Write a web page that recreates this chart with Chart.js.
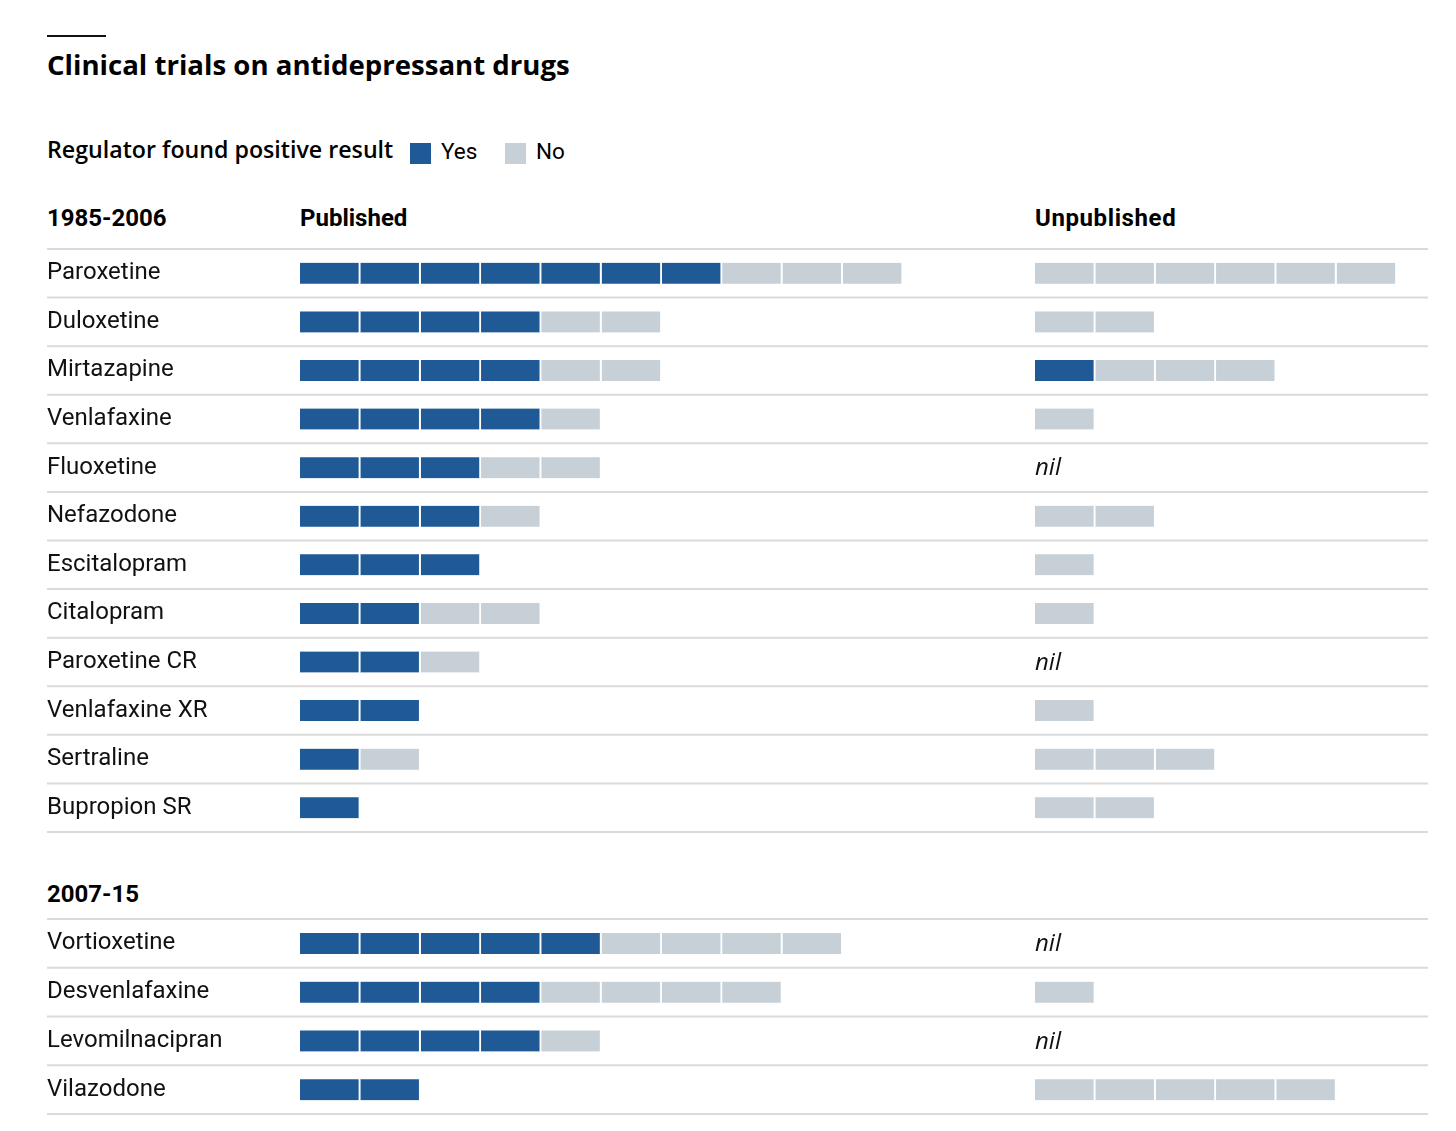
<!DOCTYPE html>
<html>
<head>
<meta charset="utf-8">
<script src="https://cdn.jsdelivr.net/npm/chart.js@4"></script>
<style>
  html, body { margin: 0; padding: 0; background: #fff; }
  body { width: 1456px; height: 1131px; position: relative; overflow: hidden; font-family: Roboto, sans-serif; color: #111; }
  .abs { position: absolute; white-space: nowrap; }
  #rule { left: 47px; top: 35px; width: 59px; height: 2px; background: #111; }
  #title { left: 47px; top: 50.5px; font-family: "Open Sans", sans-serif; font-size: 27.6px; line-height: 27.6px; font-weight: 700; color: #000; }
  #legend { left: 47px; top: 138px; font-family: "Open Sans", sans-serif; font-size: 23.2px; line-height: 23.2px; font-weight: 600; color: #000; }
  .sw { position: absolute; width: 21px; height: 21px; }
  .lt { font-size: 22.5px; line-height: 22.5px; font-weight: 400; color: #000; }
  .hdr { font-size: 24px; line-height: 24px; font-weight: 700; color: #000; top: 206px; }
  canvas { position: absolute; left: 0; }
</style>
</head>
<body>
<div id="rule" class="abs"></div>
<div id="title" class="abs">Clinical trials on antidepressant drugs</div>
<div id="legend" class="abs">Regulator found positive result</div>
<div class="sw" style="left:410px; top:143px; background:#1f5a96;"></div>
<div class="abs lt" id="lgYes" style="left:441px; top:140px;"></div>
<div class="sw" style="left:505px; top:143px; background:#c6d0d6;"></div>
<div class="abs lt" id="lgNo" style="left:536px; top:140px;"></div>
<div class="abs hdr" style="left:47px;">1985-2006</div>
<div class="abs hdr" style="left:300px;">Published</div>
<div class="abs hdr" style="left:1035px; letter-spacing:0.6px;">Unpublished</div>
<div class="abs hdr" style="left:47px; top:882px;">2007-15</div>

<canvas id="c1" width="1456" height="591" style="top:245px;"></canvas>
<canvas id="c2" width="1456" height="203" style="top:915px;"></canvas>

<script>
// ---------- DATA ----------
// 1985-2006
const drugs1      = ["Paroxetine", "Duloxetine", "Mirtazapine", "Venlafaxine", "Fluoxetine", "Nefazodone",
                     "Escitalopram", "Citalopram", "Paroxetine CR", "Venlafaxine XR", "Sertraline", "Bupropion SR"];
const pubYes1     = [7, 4, 4, 4, 3, 3, 3, 2, 2, 2, 1, 1];
const pubNo1      = [3, 2, 2, 1, 2, 1, 0, 2, 1, 0, 1, 0];
const unpubYes1   = [0, 0, 1, 0, 0, 0, 0, 0, 0, 0, 0, 0];
const unpubNo1    = [6, 2, 3, 1, 0, 2, 1, 1, 0, 1, 3, 2];
// 2007-15
const drugs2      = ["Vortioxetine", "Desvenlafaxine", "Levomilnacipran", "Vilazodone"];
const pubYes2     = [5, 4, 4, 2];
const pubNo2      = [4, 4, 1, 0];
const unpubYes2   = [0, 0, 0, 0];
const unpubNo2    = [0, 1, 0, 5];

const legendLabels = ["Yes", "No"];
const nilLabel = "nil";

// ---------- STYLE / LAYOUT ----------
const BLUE = "#1f5a96";
const GREY = "#c6d0d6";
const RULE = "#dadada";
const UNIT_PX = 60.3;                  // pixel width of one trial
const X_MAX = (1428 - 300) / UNIT_PX;  // axis range in trial units
const UNPUB_OFFSET = (1035 - 300) / UNIT_PX;

document.getElementById("lgYes").textContent = legendLabels[0];
document.getElementById("lgNo").textContent = legendLabels[1];

Chart.defaults.font.family = "Roboto, sans-serif";

function buildDatasets(yes, no, uYes, uNo) {
  const ds = [];
  const maxPub = Math.max(...yes.map((v, i) => v + no[i]));
  const maxUnpub = Math.max(...uYes.map((v, i) => v + uNo[i]));
  const common = {
    grouped: false,
    barThickness: 21,
    borderColor: "#ffffff",
    borderWidth: { top: 0, bottom: 0, left: 0, right: 2 },
    borderSkipped: false
  };
  for (let k = 0; k < maxPub; k++) {
    ds.push(Object.assign({
      label: "pub" + k,
      data: yes.map((v, i) => k < v + no[i] ? [k, k + 1] : null),
      backgroundColor: yes.map((v) => k < v ? BLUE : GREY)
    }, common));
  }
  for (let k = 0; k < maxUnpub; k++) {
    ds.push(Object.assign({
      label: "unpub" + k,
      data: uYes.map((v, i) => k < v + uNo[i] ? [UNPUB_OFFSET + k, UNPUB_OFFSET + k + 1] : null),
      backgroundColor: uYes.map((v) => k < v ? BLUE : GREY)
    }, common));
  }
  return ds;
}

const rowRules = {
  id: "rowRules",
  beforeDatasetsDraw(chart) {
    const y = chart.scales.y, ctx = chart.ctx;
    const n = chart.data.labels.length;
    const step = n > 1 ? (y.getPixelForValue(1) - y.getPixelForValue(0)) : (chart.chartArea.bottom - chart.chartArea.top);
    ctx.save();
    ctx.strokeStyle = RULE;
    ctx.lineWidth = 2;
    for (let i = 0; i <= n; i++) {
      const py = y.getPixelForValue(0) - step / 2 + i * step;
      ctx.beginPath();
      ctx.moveTo(47, py);
      ctx.lineTo(1428, py);
      ctx.stroke();
    }
    ctx.restore();
  }
};

function nilPlugin(uYes, uNo) {
  return {
    id: "nilText",
    afterDatasetsDraw(chart) {
      const x = chart.scales.x, y = chart.scales.y, ctx = chart.ctx;
      ctx.save();
      ctx.font = "italic 24px 'Open Sans', sans-serif";
      ctx.fillStyle = "#111";
      ctx.textBaseline = "middle";
      ctx.textAlign = "left";
      uYes.forEach((v, i) => {
        if (v + uNo[i] === 0) {
          ctx.fillText(nilLabel, x.getPixelForValue(UNPUB_OFFSET), y.getPixelForValue(i) + 1);
        }
      });
      ctx.restore();
    }
  };
}

function makeChart(id, labels, yes, no, uYes, uNo) {
  return new Chart(document.getElementById(id), {
    type: "bar",
    data: { labels: labels, datasets: buildDatasets(yes, no, uYes, uNo) },
    options: {
      indexAxis: "y",
      responsive: false,
      animation: false,
      layout: { padding: { top: 4, bottom: 4, left: 47, right: 28 } },
      plugins: { legend: { display: false }, tooltip: { enabled: false } },
      scales: {
        x: { type: "linear", min: 0, max: X_MAX, display: false },
        y: {
          type: "category",
          grid: { display: false },
          border: { display: false },
          ticks: {
            crossAlign: "far",
            padding: 0,
            color: "#111",
            font: { size: 24, family: "Roboto, sans-serif" }
          },
          afterFit(scale) {
            scale.width = 253;
            scale.paddingTop = 0;
            scale.paddingBottom = 0;
          }
        }
      }
    },
    plugins: [rowRules, nilPlugin(uYes, uNo)]
  });
}

makeChart("c1", drugs1, pubYes1, pubNo1, unpubYes1, unpubNo1);
makeChart("c2", drugs2, pubYes2, pubNo2, unpubYes2, unpubNo2);
</script>
</body>
</html>
